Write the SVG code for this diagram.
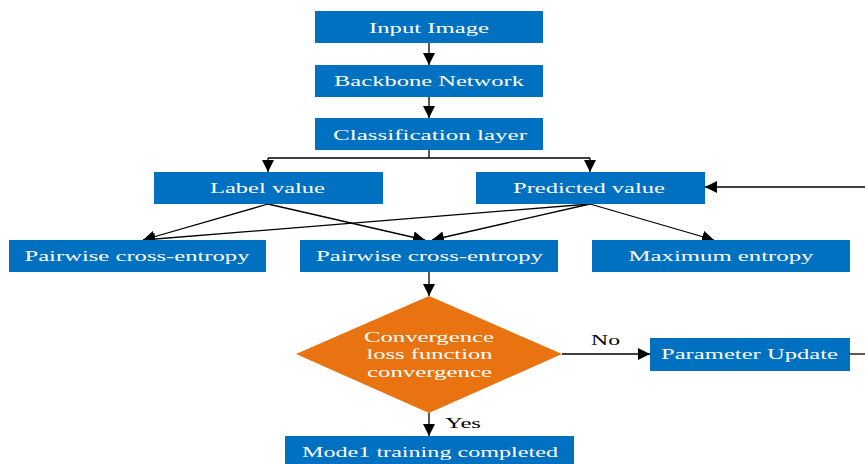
<svg xmlns="http://www.w3.org/2000/svg" width="865" height="464" viewBox="0 0 865 464">
<style>
.box{fill:#0070C0}
.dia{fill:#E97311}
.t{font-family:"Liberation Serif","Times New Roman",serif;font-size:15px;fill:#fff;text-anchor:middle}
.lb{font-family:"Liberation Serif","Times New Roman",serif;font-size:15px;fill:#000;text-anchor:middle}
.c{stroke:#000;stroke-width:1.3;fill:none}
</style>
<defs>
<marker id="ah" markerUnits="userSpaceOnUse" markerWidth="14" markerHeight="14" refX="12" refY="6" orient="auto">
<path d="M0,0 L12,6 L0,12 z" fill="#000"/>
</marker>
</defs>
<rect width="865" height="464" fill="#fff"/>
<g id="connectors">
<line class="c" x1="429" y1="43" x2="429" y2="65" marker-end="url(#ah)"/>
<line class="c" x1="429" y1="97" x2="429" y2="118" marker-end="url(#ah)"/>
<polyline class="c" points="429,150 429,158"/>
<polyline class="c" points="268,158 590,158"/>
<line class="c" x1="268" y1="158" x2="268" y2="172" marker-end="url(#ah)"/>
<line class="c" x1="590" y1="158" x2="590" y2="172" marker-end="url(#ah)"/>
<line class="c" x1="268" y1="204" x2="143" y2="240" marker-end="url(#ah)"/>
<line class="c" x1="268" y1="204" x2="425" y2="240" marker-end="url(#ah)"/>
<line class="c" x1="590" y1="204" x2="143" y2="240" marker-end="url(#ah)"/>
<line class="c" x1="590" y1="204" x2="432" y2="240" marker-end="url(#ah)"/>
<line class="c" x1="590" y1="204" x2="714" y2="240" marker-end="url(#ah)"/>
<line class="c" x1="429" y1="272" x2="429" y2="296" marker-end="url(#ah)"/>
<line class="c" x1="562" y1="354" x2="650" y2="354" marker-end="url(#ah)"/>
<line class="c" x1="850" y1="354" x2="866" y2="354"/>
<line class="c" x1="866" y1="187" x2="705" y2="187" marker-end="url(#ah)"/>
<line class="c" x1="429" y1="413" x2="429" y2="436" marker-end="url(#ah)"/>
<text class="lb" x="605.5" y="345" textLength="29" lengthAdjust="spacingAndGlyphs">No</text>
<text class="lb" x="463" y="428" textLength="36" lengthAdjust="spacingAndGlyphs">Yes</text>
</g>
<g id="input-image">
<rect class="box" x="315" y="11" width="228" height="32"/>
<text class="t" x="429" y="33" textLength="120" lengthAdjust="spacingAndGlyphs">Input Image</text>
</g>
<g id="backbone-network">
<rect class="box" x="315" y="65" width="228" height="32"/>
<text class="t" x="429" y="86" textLength="190" lengthAdjust="spacingAndGlyphs">Backbone Network</text>
</g>
<g id="classification-layer">
<rect class="box" x="315" y="118" width="228" height="32"/>
<text class="t" x="430" y="140" textLength="194" lengthAdjust="spacingAndGlyphs">Classification layer</text>
</g>
<g id="label-value">
<rect class="box" x="154" y="172" width="229" height="32"/>
<text class="t" x="267.5" y="193" textLength="115" lengthAdjust="spacingAndGlyphs">Label value</text>
</g>
<g id="predicted-value">
<rect class="box" x="476" y="172" width="229" height="32"/>
<text class="t" x="589" y="193" textLength="152" lengthAdjust="spacingAndGlyphs">Predicted value</text>
</g>
<g id="pairwise-1">
<rect class="box" x="9" y="240" width="257" height="32"/>
<text class="t" x="137" y="261" textLength="225" lengthAdjust="spacingAndGlyphs">Pairwise cross-entropy</text>
</g>
<g id="pairwise-2">
<rect class="box" x="300" y="240" width="258" height="32"/>
<text class="t" x="429.5" y="261" textLength="227" lengthAdjust="spacingAndGlyphs">Pairwise cross-entropy</text>
</g>
<g id="maximum-entropy">
<rect class="box" x="592" y="240" width="258" height="32"/>
<text class="t" x="721" y="261" textLength="185" lengthAdjust="spacingAndGlyphs">Maximum entropy</text>
</g>
<g id="convergence">
<polygon class="dia" points="429,296 562,354 429,413 296,354"/>
<text class="t" x="429" y="342" textLength="130" lengthAdjust="spacingAndGlyphs">Convergence</text>
<text class="t" x="429.5" y="359" textLength="126" lengthAdjust="spacingAndGlyphs">loss function</text>
<text class="t" x="429.5" y="377" textLength="125" lengthAdjust="spacingAndGlyphs">convergence</text>
</g>
<g id="parameter-update">
<rect class="box" x="650" y="338" width="200" height="33"/>
<text class="t" x="749.5" y="359" textLength="177" lengthAdjust="spacingAndGlyphs">Parameter Update</text>
</g>
<g id="model-training-completed">
<rect class="box" x="285" y="436" width="289" height="30"/>
<text class="t" x="430" y="457" textLength="256" lengthAdjust="spacingAndGlyphs">Mode1 training completed</text>
</g>
</svg>
